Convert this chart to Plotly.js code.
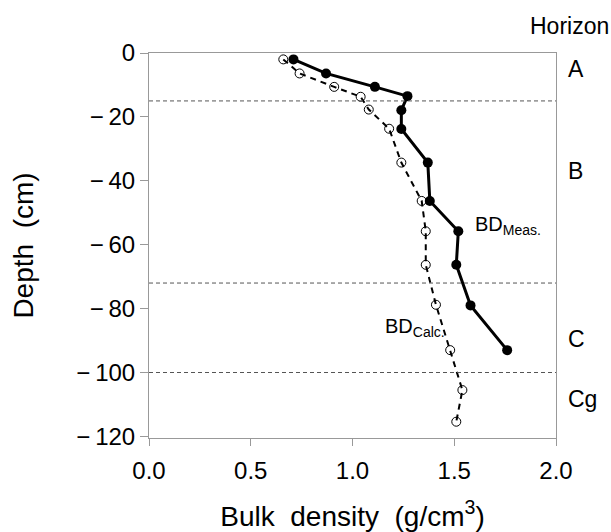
<!DOCTYPE html>
<html>
<head>
<meta charset="utf-8">
<script src="https://cdn.plot.ly/plotly-3.0.1.min.js"></script>
<style>
  html, body { margin: 0; padding: 0; background: #fff; }
  #chart { width: 611px; height: 532px; }
</style>
</head>
<body>
<div id="chart"></div>
<script>
// Measured bulk density profile (g/cm3) vs. depth (cm)
const measDensity = [0.71, 0.87, 1.11, 1.27, 1.24, 1.24, 1.37, 1.38, 1.52, 1.51, 1.58, 1.76];
const measDepth   = [-2, -6.4, -10.6, -13.5, -17.9, -23.8, -34.3, -46.3, -55.8, -66.3, -79, -93];

// Calculated bulk density profile
const calcDensity = [0.66, 0.74, 0.91, 1.04, 1.08, 1.18, 1.24, 1.34, 1.36, 1.36, 1.41, 1.48, 1.54, 1.51];
const calcDepth   = [-2, -6.4, -10.6, -13.7, -17.7, -23.7, -34.3, -46.3, -55.8, -66.3, -78.8, -93, -105.5, -115.4];

// Horizon boundaries and labels
const horizonBounds = [-15, -72, -100];
const horizonNames  = ['A', 'B', 'C', 'Cg'];
const horizonLabelDepth = [-5.1, -36.9, -89.6, -108.4];

const xTicks = [0, 0.5, 1.0, 1.5, 2.0];
const xTickText = ['0.0', '0.5', '1.0', '1.5', '2.0'];
const yTicks = [0, -20, -40, -60, -80, -100, -120];
const yTickText = ['0', '\u2212\u200920', '\u2212\u200940', '\u2212\u200960', '\u2212\u200980', '\u2212\u2009100', '\u2212\u2009120'];

const font = 'Liberation Sans, Arial, sans-serif';
const gap = '\u00a0\u00a0';

const traces = [
  {
    x: calcDensity, y: calcDepth, type: 'scatter', mode: 'lines+markers',
    line: { color: '#000', width: 2, dash: '6px,5px' },
    marker: { symbol: 'circle-open', size: 9, color: '#000', line: { width: 1, color: '#000' } },
    hoverinfo: 'skip'
  },
  {
    x: measDensity, y: measDepth, type: 'scatter', mode: 'lines+markers',
    line: { color: '#000', width: 3 },
    marker: { symbol: 'circle', size: 10, color: '#000' },
    hoverinfo: 'skip'
  }
];

const shapes = horizonBounds.map(d => ({
  type: 'line', xref: 'paper', x0: 0, x1: 1, yref: 'y', y0: d, y1: d,
  line: { color: '#555', width: 1, dash: '4px,3px' }
}));

const annotations = horizonNames.map((name, i) => ({
  text: name, xref: 'paper', x: 1.025, xanchor: 'left',
  yref: 'y', y: horizonLabelDepth[i], yanchor: 'middle',
  showarrow: false, font: { family: font, size: 23, color: '#000' }
}));

annotations.push(
  { text: 'Horizon', xref: 'paper', x: 1.032, xanchor: 'center', yref: 'paper', y: 1.07, yanchor: 'middle',
    showarrow: false, font: { family: font, size: 23, color: '#000' } },
  { text: 'BD<sub>Meas.</sub>', xref: 'x', x: 1.59, xanchor: 'left', yref: 'y', y: -54, yanchor: 'middle',
    showarrow: false, font: { family: font, size: 20, color: '#000' } },
  { text: 'BD<sub>Calc.</sub>', xref: 'x', x: 1.15, xanchor: 'left', yref: 'y', y: -86, yanchor: 'middle',
    showarrow: false, font: { family: font, size: 20, color: '#000' } }
);

const layout = {
  width: 611, height: 532,
  margin: { l: 149, r: 55, t: 53, b: 94 },
  paper_bgcolor: '#fff', plot_bgcolor: '#fff',
  showlegend: false,
  font: { family: font, color: '#000' },
  xaxis: {
    range: [0, 2.0], tickvals: xTicks, ticktext: xTickText,
    showgrid: false, zeroline: false,
    showline: true, linecolor: '#999', linewidth: 1, mirror: true,
    ticks: 'outside', ticklen: 7, tickcolor: '#999', ticklabelstandoff: 4,
    tickfont: { family: font, size: 24, color: '#000' },
    title: { text: 'Bulk' + gap + 'density' + gap + '(g/cm<sup>3</sup>)', font: { family: font, size: 28, color: '#000' }, standoff: 26 }
  },
  yaxis: {
    range: [-120.5, 0], tickvals: yTicks, ticktext: yTickText,
    showgrid: false, zeroline: false,
    showline: true, linecolor: '#999', linewidth: 1, mirror: true,
    ticks: 'outside', ticklen: 8, tickcolor: '#999',
    tickfont: { family: font, size: 24, color: '#000' },
    title: { text: 'Depth' + gap + '(cm)', font: { family: font, size: 28, color: '#000' }, standoff: 34 }
  },
  shapes: shapes,
  annotations: annotations
};

Plotly.newPlot('chart', traces, layout, { staticPlot: true, displayModeBar: false });
</script>
</body>
</html>
